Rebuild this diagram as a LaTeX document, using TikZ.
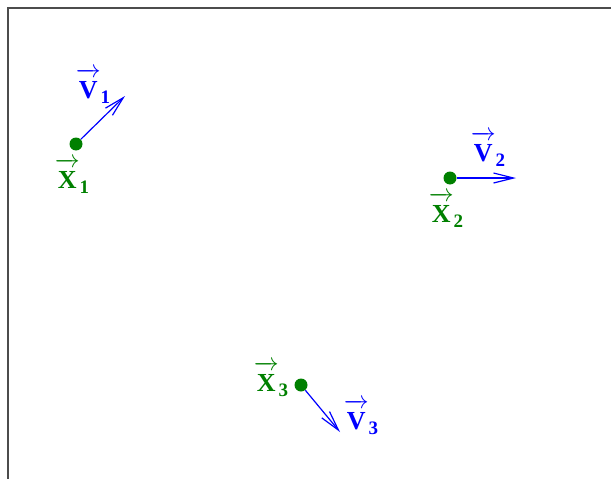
\documentclass[tikz,border=0pt]{standalone}
\usepackage{amsmath}
\usepackage{fontspec}
\setmainfont{Liberation Serif}
\usetikzlibrary{arrows.meta}
\newcommand{\vecteur}[2]{$\overrightarrow{\rule{0pt}{21pt}\text{#1}}$\raisebox{-5pt}{\fontsize{19}{19}\selectfont #2}}

\begin{document}
\begin{tikzpicture}[%
    x=1pt, y=-1pt, semithick, ->, >={Straight Barb[length=20pt,width=10pt]},
    every node/.style={font=\fontsize{26}{28}\selectfont\bfseries},
    masse/.style={circle, fill=green!50!black, inner sep=0pt, minimum size=13pt},
    vitesse/.style={blue, line width=1.2pt},
    posetiq/.style={text=green!50!black, inner sep=0pt},
    vitetiq/.style={text=blue, inner sep=0pt}]
    \useasboundingbox (0,0) rectangle (611,479);
    \draw[-, black!70, line width=1.5pt] (8,479) -- (8,8) -- (611,8);

    \node[masse](x1) at (76,144) {};
    \node[masse](x2) at (450,178) {};
    \node[masse](x3) at (301,385) {};
    \coordinate(v1) at (125,96);
    \coordinate(v2) at (516,178);
    \coordinate(v3) at (340,432);
    \draw[vitesse] (x1) -- (v1);
    \draw[vitesse] (x2) -- (v2);
    \draw[vitesse] (x3) -- (v3);

    \node[posetiq](lx1) at (72,176) {\vecteur{X}{1}};
    \node[posetiq](lx2) at (446,210) {\vecteur{X}{2}};
    \node[posetiq](lx3) at (271,379) {\vecteur{X}{3}};
    \node[vitetiq](lv1) at (93,86) {\vecteur{V}{1}};
    \node[vitetiq](lv2) at (488,149) {\vecteur{V}{2}};
    \node[vitetiq](lv3) at (361,417) {\vecteur{V}{3}};

\end{tikzpicture}
\end{document}
